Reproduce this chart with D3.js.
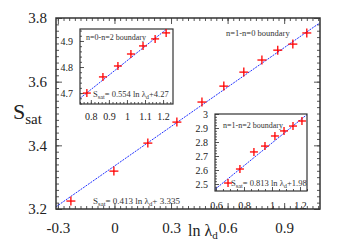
<!DOCTYPE html>
<html>
<head>
<meta charset="utf-8">
<script src="https://cdn.jsdelivr.net/npm/d3@7"></script>
<style>
body { margin: 0; background: #fff; }
svg { font-family: "Liberation Serif", "Times New Roman", serif; }
.axis path { display: none; }
</style>
</head>
<body>
<div id="chart"></div>
<script>
// main panel: n=1-n=0 boundary
var mainX = [-0.231, -0.003, 0.177, 0.331, 0.464, 0.580, 0.686, 0.782, 0.866, 0.946, 1.020];
var mainY = [3.225, 3.319, 3.407, 3.473, 3.536, 3.586, 3.630, 3.668, 3.699, 3.718, 3.753];
var mainFit = [0.413, 3.335];
var mainXTicks = [-0.3, 0, 0.3, 0.6, 0.9];
var mainYTicks = [3.2, 3.4, 3.6, 3.8];

// inset top-left: n=0-n=2 boundary
var in1X = [0.778, 0.867, 0.950, 1.022, 1.089, 1.156, 1.217];
var in1Y = [4.700, 4.762, 4.804, 4.850, 4.881, 4.908, 4.931];
var in1Fit = [0.554, 4.27];
var in1XTicks = [0.8, 0.9, 1, 1.1, 1.2];
var in1YTicks = [4.7, 4.8, 4.9];

// inset bottom-right: n=1-n=2 boundary
var in2X = [0.686, 0.771, 0.871, 0.950, 1.021, 1.086, 1.150, 1.214];
var in2Y = [2.507, 2.607, 2.729, 2.771, 2.843, 2.879, 2.914, 2.950];
var in2Fit = [0.813, 1.98];
var in2XTicks = [0.6, 0.8, 1, 1.2];
var in2YTicks = [2.5, 2.6, 2.7, 2.8, 2.9, 3];

var svg = d3.select("#chart").append("svg")
    .attr("width", 346)
    .attr("height", 242);

var fmt = function(v) { return String(+v.toFixed(1)); };

function minorValues(domain, step) {
    var out = [];
    var start = Math.ceil(domain[0] / step - 1e-6);
    var end = Math.floor(domain[1] / step + 1e-6);
    for (var i = start; i <= end; i++) out.push(+(i * step).toFixed(4));
    return out;
}

// draws one framed panel with ticks, fit line and markers
function panel(p) {
    var x = d3.scaleLinear().domain(p.xd).range([p.left, p.right]);
    var y = d3.scaleLinear().domain(p.yd).range([p.bottom, p.top]);
    var g = svg.append("g");
    var id = "clip" + p.name;

    g.append("clipPath").attr("id", id)
      .append("rect")
        .attr("x", p.left).attr("y", p.top)
        .attr("width", p.right - p.left).attr("height", p.bottom - p.top);

    g.append("rect")
        .attr("x", p.left).attr("y", p.top)
        .attr("width", p.right - p.left).attr("height", p.bottom - p.top)
        .attr("fill", "#fff");

    // minor ticks
    var sides = p.sides;
    var mx = minorValues(p.xd, p.xMinor), my = minorValues(p.yd, p.yMinor);
    if (sides.indexOf("b") >= 0)
        g.append("g").attr("class", "axis")
          .attr("transform", "translate(0," + p.bottom + ")")
          .call(d3.axisBottom(x).tickValues(mx).tickSize(-p.minorLen).tickFormat(""));
    if (sides.indexOf("t") >= 0)
        g.append("g").attr("class", "axis")
          .attr("transform", "translate(0," + p.top + ")")
          .call(d3.axisTop(x).tickValues(mx.concat(p.xTicks)).tickSize(-p.minorLen).tickFormat(""));
    if (sides.indexOf("l") >= 0)
        g.append("g").attr("class", "axis")
          .attr("transform", "translate(" + p.left + ",0)")
          .call(d3.axisLeft(y).tickValues(my).tickSize(-p.minorLen).tickFormat(""));
    if (sides.indexOf("r") >= 0)
        g.append("g").attr("class", "axis")
          .attr("transform", "translate(" + p.right + ",0)")
          .call(d3.axisRight(y).tickValues(my).tickSize(-p.minorLen).tickFormat(""));

    // major ticks with labels
    var xa = g.append("g").attr("class", "axis")
        .attr("transform", "translate(0," + p.bottom + ")")
        .call(d3.axisBottom(x).tickValues(p.xTicks).tickSize(-p.majorLen)
            .tickPadding(p.xPad).tickFormat(fmt));
    var ya = g.append("g").attr("class", "axis")
        .attr("transform", "translate(" + p.left + ",0)")
        .call(d3.axisLeft(y).tickValues(p.yTicks).tickSize(-p.majorLen)
            .tickPadding(p.yPad).tickFormat(fmt));
    if (sides.indexOf("t") >= 0)
        g.append("g").attr("class", "axis")
          .attr("transform", "translate(0," + p.top + ")")
          .call(d3.axisTop(x).tickValues(p.xTicks).tickSize(-p.majorLen).tickFormat(""));
    if (sides.indexOf("r") >= 0)
        g.append("g").attr("class", "axis")
          .attr("transform", "translate(" + p.right + ",0)")
          .call(d3.axisRight(y).tickValues(p.yTicks).tickSize(-p.majorLen).tickFormat(""));

    g.selectAll(".axis line").attr("stroke", "#555").attr("stroke-width", 1);
    g.selectAll(".axis text")
        .attr("font-family", "Liberation Serif")
        .attr("font-size", p.tickFont)
        .attr("fill", "#222");

    // fit line
    var xs = p.xd;
    g.append("line")
        .attr("clip-path", "url(#" + id + ")")
        .attr("x1", x(xs[0])).attr("y1", y(p.fit[0] * xs[0] + p.fit[1]))
        .attr("x2", x(xs[1])).attr("y2", y(p.fit[0] * xs[1] + p.fit[1]))
        .attr("stroke", "#2233ff")
        .attr("stroke-width", 1)
        .attr("stroke-dasharray", "2,1");

    // frame
    g.append("rect")
        .attr("x", p.left).attr("y", p.top)
        .attr("width", p.right - p.left).attr("height", p.bottom - p.top)
        .attr("fill", "none")
        .attr("stroke", "#333")
        .attr("stroke-width", p.frameW);

    // red plus markers
    var s = p.mark;
    var pts = g.selectAll(".pt").data(d3.zip(p.xs, p.ys)).enter().append("g")
        .attr("transform", function(d) { return "translate(" + x(d[0]) + "," + y(d[1]) + ")"; });
    pts.append("line").attr("x1", -s).attr("x2", s).attr("y1", 0).attr("y2", 0);
    pts.append("line").attr("x1", 0).attr("x2", 0).attr("y1", -s).attr("y2", s);
    pts.selectAll("line").attr("stroke", "#ff0000").attr("stroke-width", 1.3);

    return g;
}

// S_sat = a ln lambda_d + b label
function eqLabel(px, py, size, a, b, sep) {
    var t = svg.append("text")
        .attr("x", px).attr("y", py)
        .attr("font-size", size)
        .attr("fill", "#333");
    t.append("tspan").text("S");
    t.append("tspan").attr("font-size", size * 0.75).attr("dy", size * 0.25).text("sat");
    t.append("tspan").attr("dy", -size * 0.25).text("= " + a + " ln \u03bb");
    t.append("tspan").attr("font-size", size * 0.75).attr("dy", size * 0.25).text("d");
    t.append("tspan").attr("dy", -size * 0.25).text("+" + sep + b);
}

panel({
    name: "main", left: 56, right: 320, top: 18, bottom: 209,
    xd: [-0.31, 1.09], yd: [3.2, 3.8],
    xTicks: mainXTicks, yTicks: mainYTicks, xMinor: 0.03, yMinor: 0.02,
    majorLen: 6, minorLen: 3, xPad: 13, yPad: 9, tickFont: 15,
    sides: "tblr", frameW: 1.5, fit: mainFit, xs: mainX, ys: mainY, mark: 4.5
});

svg.append("text").attr("x", 226).attr("y", 36)
    .attr("font-size", 8.5).attr("fill", "#333")
    .text("n=1-n=0 boundary");
eqLabel(93, 204, 9, "0.413", "3.335", " ");

panel({
    name: "in1", left: 80, right: 173, top: 29, bottom: 104,
    xd: [0.74, 1.255], yd: [4.658, 4.946],
    xTicks: in1XTicks, yTicks: in1YTicks, xMinor: 0.02, yMinor: 0.02,
    majorLen: 4, minorLen: 2, xPad: 9, yPad: 7, tickFont: 10,
    sides: "bl", frameW: 1.2, fit: in1Fit, xs: in1X, ys: in1Y, mark: 4
});
svg.append("text").attr("x", 86).attr("y", 40)
    .attr("font-size", 8).attr("fill", "#333")
    .text("n=0-n=2 boundary");
eqLabel(93, 97, 8.5, "0.554", "4.27", "");

panel({
    name: "in2", left: 215, right: 307, top: 114, bottom: 191,
    xd: [0.593, 1.25], yd: [2.45, 3.0],
    xTicks: in2XTicks, yTicks: in2YTicks, xMinor: 0.05, yMinor: 0.02,
    majorLen: 4, minorLen: 2, xPad: 11, yPad: 7, tickFont: 10,
    sides: "bl", frameW: 1.2, fit: in2Fit, xs: in2X, ys: in2Y, mark: 4
});
svg.append("text").attr("x", 223).attr("y", 128)
    .attr("font-size", 8).attr("fill", "#333")
    .text("n=1-n=2 boundary");
eqLabel(231, 186, 8.5, "0.813", "1.98", "");

// axis titles
var yl = svg.append("text").attr("x", 13).attr("y", 119)
    .attr("font-size", 22).attr("fill", "#222");
yl.append("tspan").text("S");
yl.append("tspan").attr("font-size", 15).attr("dy", 5).text("sat");

var xl = svg.append("text").attr("x", 188).attr("y", 236)
    .attr("font-size", 16).attr("fill", "#222");
xl.append("tspan").text("ln \u03bb");
xl.append("tspan").attr("font-size", 11).attr("dy", 3).text("d");
</script>
</body>
</html>
